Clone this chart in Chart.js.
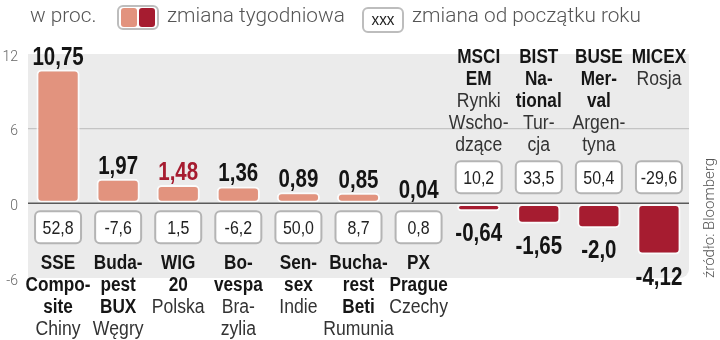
<!DOCTYPE html>
<html>
<head>
<meta charset="utf-8">
<script src="https://cdn.jsdelivr.net/npm/chart.js@4/dist/chart.umd.min.js"></script>
<style>
  html, body { margin: 0; padding: 0; background: #fff; }
  canvas { display: block; }
</style>
</head>
<body>
<canvas id="marketsChart" width="720" height="340"></canvas>
<script>
// ─── Data ───
const indexNames = [
    ['SSE', 'Compo-', 'site'],
    ['Buda-', 'pest', 'BUX'],
    ['WIG', '20'],
    ['Bo-', 'vespa'],
    ['Sen-', 'sex'],
    ['Bucha-', 'rest', 'Beti'],
    ['PX', 'Prague'],
    ['MSCI', 'EM'],
    ['BIST', 'Na-', 'tional'],
    ['BUSE', 'Mer-', 'val'],
    ['MICEX']
];
const countries = [
    ['Chiny'], ['Węgry'], ['Polska'], ['Bra-', 'zylia'], ['Indie'], ['Rumunia'],
    ['Czechy'], ['Rynki', 'Wscho-', 'dzące'], ['Tur-', 'cja'], ['Argen-', 'tyna'], ['Rosja']
];
const weeklyChange = [10.75, 1.97, 1.48, 1.36, 0.89, 0.85, 0.04, -0.64, -1.65, -2.0, -4.12];
const weeklyDecimals = [2, 2, 2, 2, 2, 2, 2, 2, 2, 1, 2];
const ytdChange = [52.8, -7.6, 1.5, -6.2, 50.0, 8.7, 0.8, 10.2, 33.5, 50.4, -29.6];
const yTicks = [-6, 0, 6, 12];
const highlighted = 'WIG';

const POS = '#e2937e';
const NEG = '#a61c30';

const fmt = (v, d) => v.toFixed(d).replace('.', ',');

const txt = (ctx, s, x, y, font, color, sx, align, base) => {
    ctx.save();
    ctx.font = font;
    ctx.fillStyle = color;
    ctx.textAlign = align || 'center';
    ctx.textBaseline = base || 'middle';
    ctx.translate(x, y);
    ctx.scale(sx || 1, 1);
    ctx.fillText(s, 0, 0);
    ctx.restore();
};

const roundBox = (ctx, x, y, w, h, r, fill, stroke, lw) => {
    ctx.save();
    ctx.beginPath();
    ctx.roundRect(x, y, w, h, r);
    ctx.fillStyle = fill;
    ctx.fill();
    if (stroke) {
        ctx.strokeStyle = stroke;
        ctx.lineWidth = lw || 1;
        ctx.stroke();
    }
    ctx.restore();
};

const infoPlugin = {
    id: 'info',
    beforeDraw(chart) {
        const { ctx, chartArea: a } = chart;
        ctx.save();
        ctx.fillStyle = '#fff';
        ctx.fillRect(0, 0, chart.width, chart.height);
        ctx.beginPath();
        ctx.roundRect(a.left, a.top, a.right - a.left, a.bottom - a.top, [0, 0, 9, 0]);
        ctx.fillStyle = '#ebebeb';
        ctx.fill();
        ctx.restore();
    },
    afterDatasetsDraw(chart) {
        const { ctx, chartArea: a } = chart;
        const y = chart.scales.y;
        const zero = y.getPixelForValue(0);

        // zero line
        ctx.save();
        ctx.strokeStyle = '#5a5a5a';
        ctx.lineWidth = 1.5;
        ctx.beginPath();
        ctx.moveTo(a.left, zero);
        ctx.lineTo(a.right, zero);
        ctx.stroke();
        ctx.restore();

        const bold = 'bold 20px "Liberation Sans", Arial, sans-serif';
        const reg = '20px "Liberation Sans", Arial, sans-serif';

        chart.getDatasetMeta(0).data.forEach((bar, i) => {
            const v = weeklyChange[i];
            const cx = bar.x;

            // weekly value
            const vColor = indexNames[i][0] === highlighted ? NEG : '#141414';
            const vy = v >= 0 ? bar.y - 5 : bar.y + 30;
            txt(ctx, fmt(v, weeklyDecimals[i]), cx, vy,
                'bold 25px "Liberation Sans", Arial, sans-serif', vColor, 0.82, 'center', 'alphabetic');

            // ytd box
            const bw = 46, bh = 32;
            const by = v >= 0 ? zero + 8 : zero - 42;
            roundBox(ctx, cx - bw / 2, by, bw, bh, 5, '#fff', '#b4b4b4', 2);
            txt(ctx, fmt(ytdChange[i], 1), cx, by + bh / 2 + 1,
                '19px "Liberation Sans", Arial, sans-serif', '#222', 0.84);

            // category label
            const lines = indexNames[i].map(s => [s, true]).concat(countries[i].map(s => [s, false]));
            const ly0 = v >= 0 ? zero + 60 : a.top + 3;
            lines.forEach(([s, b], k) => {
                txt(ctx, s, cx, ly0 + k * 22, b ? bold : reg, b ? '#161616' : '#333', b ? 0.86 : 0.88);
            });
        });
    },
    afterDraw(chart) {
        const { ctx } = chart;
        const lf = '300 20.8px Roboto, "Liberation Sans", sans-serif';

        txt(ctx, 'w proc.', 30, 17, lf, '#555', 1, 'left');

        roundBox(ctx, 118, 6, 40, 23, 5, '#fff', '#bdbdbd', 2);
        roundBox(ctx, 121, 8, 16, 19, 3, POS);
        roundBox(ctx, 139, 8, 16, 19, 3, NEG);
        txt(ctx, 'zmiana tygodniowa', 167, 17, lf, '#555', 1, 'left');

        roundBox(ctx, 363, 8, 40, 24, 5, '#fff', '#bdbdbd', 2);
        txt(ctx, 'xxx', 383, 20, '17px "Liberation Sans", Arial, sans-serif', '#222', 0.9);
        txt(ctx, 'zmiana od początku roku', 412, 17, lf, '#555', 1, 'left');

        // source
        ctx.save();
        ctx.translate(710, 278);
        ctx.rotate(-Math.PI / 2);
        txt(ctx, 'źródło: Bloomberg', 0, 0, '300 15px Roboto, "Liberation Sans", sans-serif', '#555', 1, 'left');
        ctx.restore();
    }
};

new Chart(document.getElementById('marketsChart'), {
    type: 'bar',
    data: {
        labels: indexNames.map(n => n.join(' ')),
        datasets: [{
            data: weeklyChange,
            backgroundColor: weeklyChange.map(v => v >= 0 ? POS : NEG),
            borderColor: 'rgba(255,255,255,0.8)',
            borderWidth: 2,
            borderRadius: 5,
            borderSkipped: false,
            categoryPercentage: 1,
            barPercentage: 0.72
        }]
    },
    options: {
        responsive: false,
        animation: false,
        devicePixelRatio: 1,
        layout: {
            padding: { left: 0, top: 54, right: 31, bottom: 62 }
        },
        plugins: {
            legend: { display: false },
            tooltip: { enabled: false }
        },
        scales: {
            x: { display: false },
            y: {
                min: -6,
                max: 12,
                afterBuildTicks: (scale) => {
                    scale.ticks = yTicks.map(v => ({ value: v }));
                },
                afterFit: (scale) => {
                    scale.width = 28;
                },
                border: { display: false },
                grid: {
                    drawTicks: false,
                    color: (c) => c.tick && c.tick.value === 6 ? '#c4c4c4' : 'rgba(0,0,0,0)',
                    lineWidth: 1.2
                },
                ticks: {
                    padding: 10,
                    labelOffset: 3,
                    color: '#666',
                    font: { family: 'Roboto, sans-serif', size: 14, weight: '300' }
                }
            }
        }
    },
    plugins: [infoPlugin]
});
</script>
</body>
</html>
